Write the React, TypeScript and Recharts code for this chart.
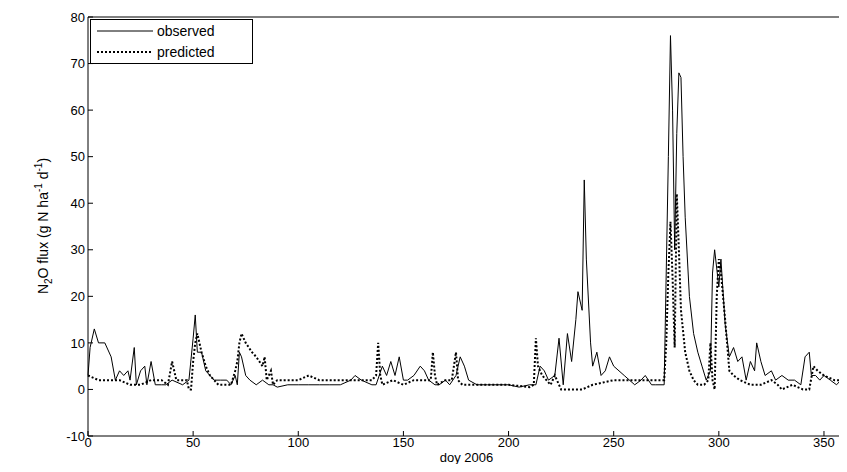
import { LineChart, Line, XAxis, YAxis, ReferenceLine } from "recharts";

const obsDays = [0,1,3,5,8,11,13,15,17,19,20,22,23,25,27,28,30,32,35,37,40,45,48,50,51,52,54,56,58,60,63,66,68,70,71,72,73,75,77,80,83,86,88,90,95,100,105,110,115,120,125,127,130,135,137,140,142,144,146,148,150,152,155,158,160,162,165,167,170,172,175,177,179,181,185,190,200,205,210,213,215,217,219,222,224,226,228,230,232,233,235,236,237,239,240,242,244,246,248,250,255,260,263,265,268,270,274,276,277,278,279,280,281,282,283,284,286,288,290,292,294,296,297,298,300,301,303,305,307,309,311,313,315,317,318,320,322,325,327,330,333,336,339,341,343,344,346,348,350,353,356,358,360];
const obsFlux = [3,9,13,10,10,7,2,4,3,4,2,9,1,4,5,1,6,1,1,1,2,1,2,11,16,8,8,4,3,2,2,2,1,3,1,8,7,3,2,1,2,1,1,0.5,1,1,1,1,1,1,2,3,2,1,1,5,3,6,3,7,2,2,3,5,4,2,1,1,2,1,3,7,5,2,1,1,1,0.5,1,1,5,4,2,3,11,1,12,6,15,21,17,45,28,10,5,8,3,4,7,5,3,1,2,3,1,1,1,50,76,60,30,55,68,67,50,37,20,12,8,5,2,4,25,30,22,28,14,7,9,6,7,2,6,4,10,6,3,4,2,3,2,2,1,7,8,3,3,2,3,2,1,2,2];

const predDays = [0,5,10,15,20,25,30,35,38,40,42,45,47,48,49,50,51,52,54,56,58,60,62,65,68,70,71,72,73,75,78,80,83,84,85,87,88,90,93,96,100,105,110,115,120,125,130,135,137,138,139,140,145,150,155,160,163,164,165,166,170,173,175,176,178,180,190,200,210,212,213,214,216,218,220,222,224,225,235,240,245,250,260,270,274,275,276,277,278,279,280,281,282,284,286,288,290,293,295,296,297,298,299,300,301,303,305,307,310,315,320,325,328,330,335,340,343,345,347,350,355,360];
const predFlux = [3,2,2,2,1,1,2,2,1,6,2,2,2,0,0,6,10,12,8,5,3,2,1,1,1,4,6,10,12,10,8,7,5,7,2,4,1,2,2,2,2,3,2,2,2,2,2,2,3,10,3,1,2,1,2,2,2,8,3,1,2,2,8,2,1,1,1,1,0.5,1,11,5,3,2,1,3,1,0,0,1,1.5,2,2,2,2,10,25,36,24,9,42,30,17,8,4,2,1,1,2,10,2,0,20,28,25,15,4,3,2,1,1,2,1,0,1,0,0,5,4,3,2,2];

const xTicks = [0, 50, 100, 150, 200, 250, 300, 350];
const yTicks = [-10, 0, 10, 20, 30, 40, 50, 60, 70, 80];

const observed = obsDays.map((d, i) => ({ day: d, flux: obsFlux[i] }));
const predicted = predDays.map((d, i) => ({ day: d, flux: predFlux[i] }));

const font = "'Liberation Sans', Arial, sans-serif";
const tickStyle = { fontSize: 13, fill: "#000", fontFamily: font };

const YLabel = () => (
  <text transform="translate(48,226) rotate(-90)" textAnchor="middle" fontSize={14} fontFamily={font} fill="#000">
    N<tspan dy={4} fontSize={10}>2</tspan>
    <tspan dy={-4}>O flux (g N ha</tspan>
    <tspan dy={-6} fontSize={10}>-1</tspan>
    <tspan dy={6}> d</tspan>
    <tspan dy={-6} fontSize={10}>-1</tspan>
    <tspan dy={6}>)</tspan>
  </text>
);

export default function App() {
  return (
    <div style={{ position: "relative", width: 847, height: 472, margin: -8, background: "#fff" }}>
      <LineChart width={847} height={472} margin={{ top: 17, right: 2, bottom: 6, left: 0 }}>
        <XAxis dataKey="day" type="number" domain={[0, 360]} ticks={xTicks} height={30}
          allowDuplicatedCategory={false} stroke="#000" tick={tickStyle} tickSize={-5} tickMargin={7}
          label={{ value: "doy 2006", position: "insideBottom", offset: 4, style: tickStyle }} />
        <YAxis domain={[-10, 80]} ticks={yTicks} width={88} stroke="#000" tick={tickStyle}
          tickSize={-5} tickMargin={8} label={<YLabel />} />
        <ReferenceLine y={80} stroke="#000" />
        <ReferenceLine x={360} stroke="#000" />
        <Line data={observed} dataKey="flux" type="linear" stroke="#000"
          strokeWidth={1} dot={false} isAnimationActive={false} />
        <Line data={predicted} dataKey="flux" type="linear" stroke="#000"
          strokeWidth={2} strokeDasharray="2 2" dot={false} isAnimationActive={false} />
      </LineChart>
      <div style={{ position: "absolute", left: 90, top: 19, width: 161, height: 43, border: "1px solid #000",
        background: "#fff", fontFamily: font, fontSize: 14 }}>
        <div style={{ display: "flex", alignItems: "center", height: 21 }}>
          <svg width={60} height={10} style={{ marginLeft: 6 }}><line x1={0} y1={5} x2={56} y2={5} stroke="#000" /></svg>
          <span>observed</span>
        </div>
        <div style={{ display: "flex", alignItems: "center", height: 21 }}>
          <svg width={60} height={10} style={{ marginLeft: 6 }}><line x1={0} y1={5} x2={56} y2={5} stroke="#000" strokeWidth={2} strokeDasharray="2 2" /></svg>
          <span>predicted</span>
        </div>
      </div>
    </div>
  );
}
